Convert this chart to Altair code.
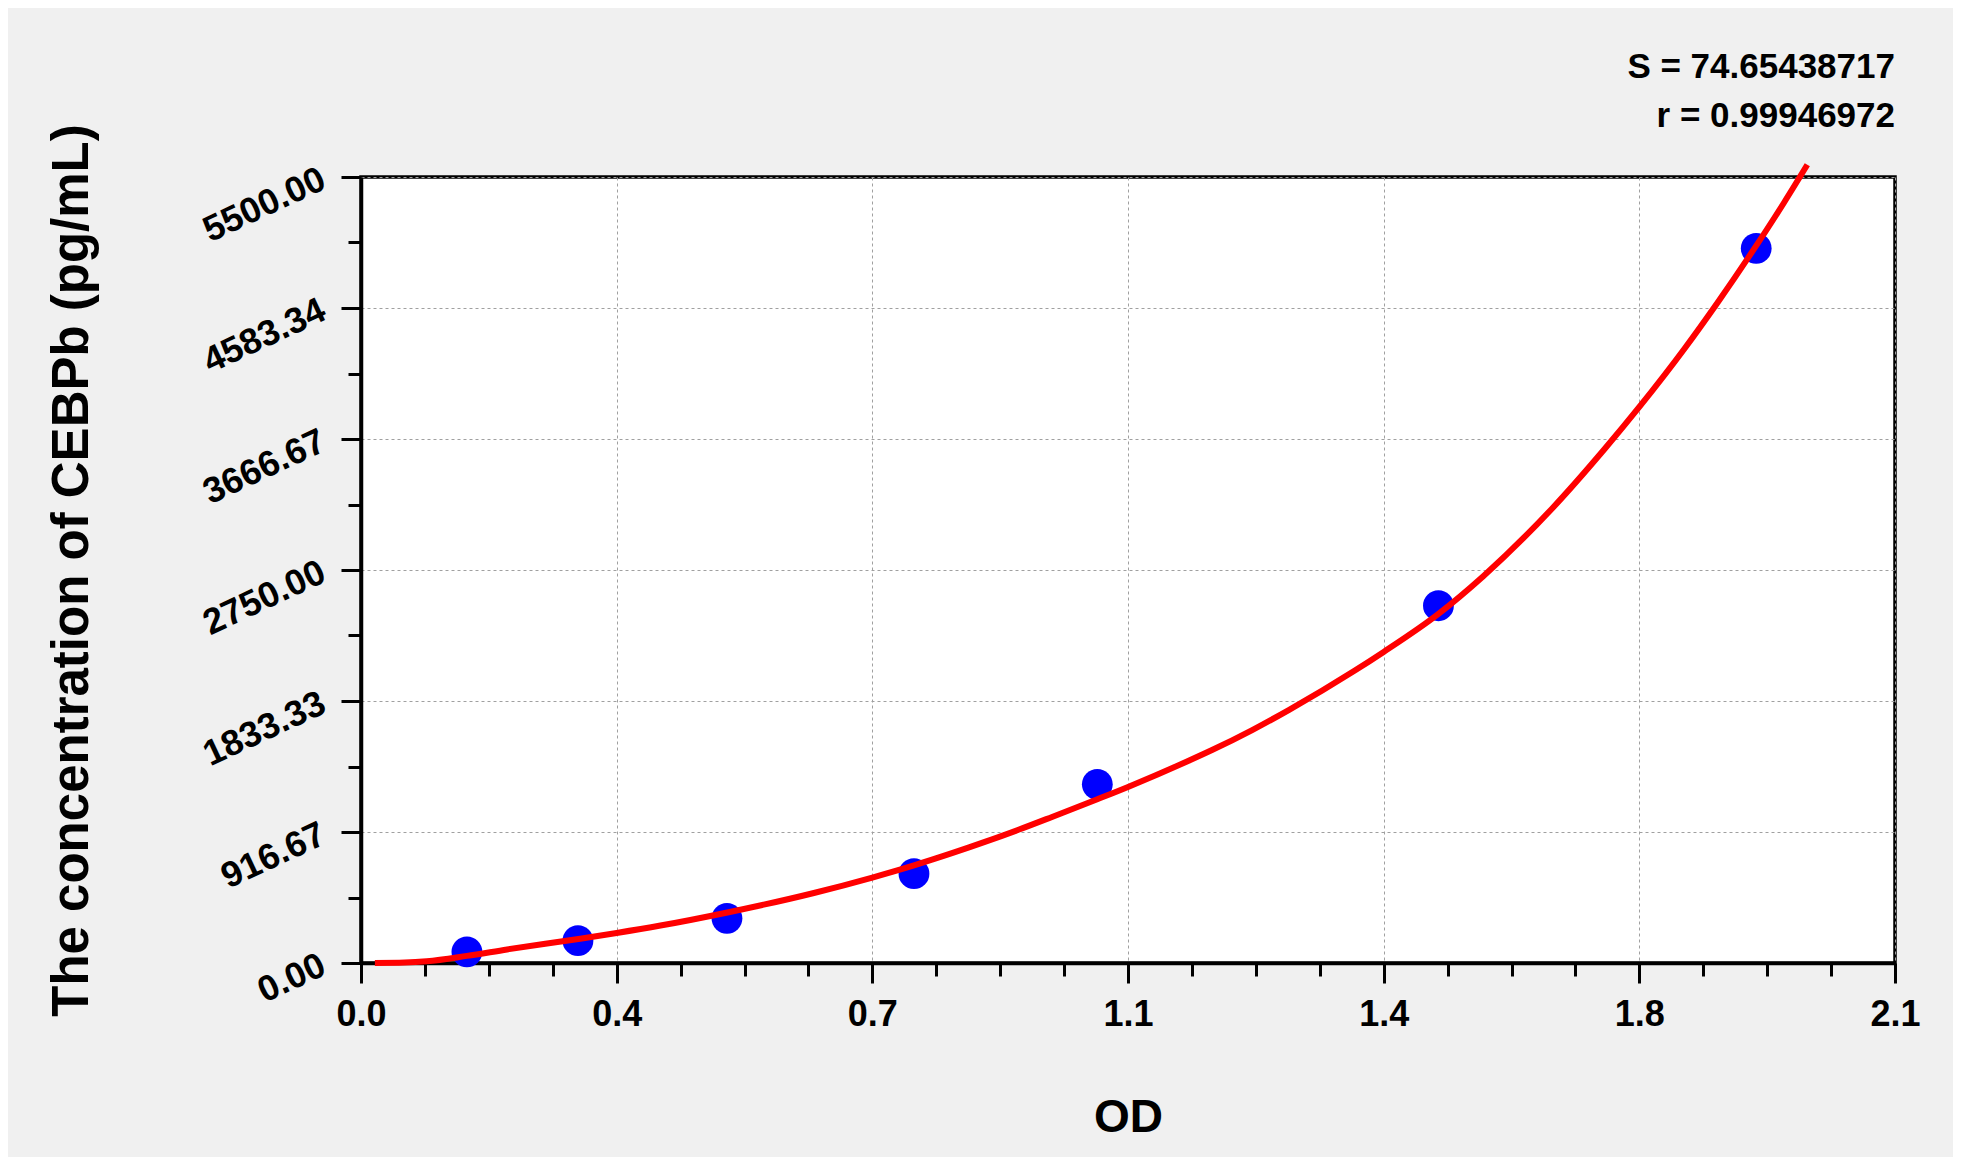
import json
import altair as alt
import pandas as pd

# ---- data ----
od_points = [0.145, 0.297, 0.501, 0.757, 1.008, 1.475, 1.910]
conc_points = [78.13, 156.25, 312.5, 625, 1250, 2500, 5000]

curve_od = [0.019, 0.06, 0.09, 0.145, 0.20, 0.30, 0.35, 0.41, 0.50, 0.62, 0.70,
            0.757, 0.81, 0.855, 0.90, 0.946, 1.008, 1.05, 1.13, 1.165, 1.22,
            1.27, 1.36, 1.40, 1.475, 1.536, 1.63, 1.703, 1.75, 1.812, 1.857,
            1.903, 1.948, 1.98]
curve_conc = [0, 3, 12, 50, 95, 170, 210, 262, 352, 490, 598,
              683, 770, 849, 932, 1022, 1146, 1232, 1408, 1490, 1630,
              1770, 2045, 2177, 2443, 2705, 3177, 3600, 3891, 4300, 4620,
              4965, 5320, 5586]

x_labels = ["0.0", "0.4", "0.7", "1.1", "1.4", "1.8", "2.1"]
y_labels = ["0.00", "916.67", "1833.33", "2750.00", "3666.67", "4583.34", "5500.00"]
stats_text = ["S = 74.65438717", "r = 0.99946972"]
x_title = "OD"
y_title = "The concentration of CEBPb (pg/mL)"

X_MAX = 2.1
Y_MAX = 5500.0
x_step = X_MAX / 6
y_step = Y_MAX / 6
x_ticks = [round(i * x_step / 4, 6) for i in range(25)]
y_ticks = [round(i * y_step / 4, 6) for i in range(25)]

FONT = "Liberation Sans"
W, H = 1534, 786

df_pts = pd.DataFrame({"od": od_points, "conc": conc_points})
df_curve = pd.DataFrame({"od": curve_od, "conc": curve_conc})

test_x = f"abs(datum.value/{x_step} - round(datum.value/{x_step})) < 0.001"
test_y = f"abs(datum.value/{y_step} - round(datum.value/{y_step})) < 0.001"

common_axis = dict(
    grid=True, gridColor="#a0a0a0", gridDash=[3, 3], gridWidth=1,
    tickColor="black", tickWidth=3, domainColor="black", domainWidth=3.5,
    labelFont=FONT, labelFontSize=36, labelFontWeight="bold", labelColor="black",
    labelOverlap=False, labelFlush=False, labelBound=False,
    titleFont=FONT, titleFontWeight="bold", titleColor="black",
)

x_axis = alt.Axis(
    values=x_ticks,
    title=x_title,
    labelExpr=f"{test_x} ? {json.dumps(x_labels)}[round(datum.value/{x_step})] : ''",
    tickSize={"condition": {"test": test_x, "value": 20}, "value": 13},
    gridOpacity={"condition": {"test": test_x, "value": 1}, "value": 0},
    labelPadding=14, labelAngle=0,
    titleFontSize=46, titleX=W / 2, titleY=168, titleBaseline="alphabetic", titleAlign="center",
    **common_axis,
)

y_axis = alt.Axis(
    values=y_ticks,
    title=y_title,
    labelExpr=f"{test_y} ? {json.dumps(y_labels)}[round(datum.value/{y_step})] : ''",
    tickSize={"condition": {"test": test_y, "value": 20}, "value": 13},
    gridOpacity={"condition": {"test": test_y, "value": 1}, "value": 0},
    labelPadding=18, labelAngle=335, labelAlign="right", labelBaseline="middle",
    titleFontSize=51, titleAngle=270, titleX=-274, titleY=H / 2,
    titleBaseline="alphabetic", titleAlign="center",
    **common_axis,
)

xs = alt.Scale(domain=[0, X_MAX], nice=False, zero=False)
ys = alt.Scale(domain=[0, Y_MAX], nice=False, zero=False)

points = alt.Chart(df_pts).mark_circle(size=950, color="#0000ff", opacity=1).encode(
    x=alt.X("od:Q", scale=xs, axis=x_axis),
    y=alt.Y("conc:Q", scale=ys, axis=y_axis),
)

line = alt.Chart(df_curve).mark_line(color="#ff0000", strokeWidth=6, interpolate="monotone").encode(
    x=alt.X("od:Q", scale=xs),
    y=alt.Y("conc:Q", scale=ys),
)

txt_style = dict(align="right", baseline="alphabetic", font=FONT, fontSize=35,
                 fontWeight="bold", color="black")
stat1 = alt.Chart(pd.DataFrame({"t": [stats_text[0]]})).mark_text(**txt_style).encode(
    text="t:N", x=alt.value(W), y=alt.value(-99))
stat2 = alt.Chart(pd.DataFrame({"t": [stats_text[1]]})).mark_text(**txt_style).encode(
    text="t:N", x=alt.value(W), y=alt.value(-50))

chart = alt.layer(points, line, stat1, stat2).properties(
    width=W, height=H,
    padding={"left": 353, "top": 169, "right": 58, "bottom": 194},
    autosize=alt.AutoSizeParams(type="none"),
).configure(
    background="#f0f0f0",
).configure_view(
    fill="white", stroke="black", strokeWidth=3.5,
)

chart.save("out.html", embed_options={"renderer": "svg", "actions": False})
